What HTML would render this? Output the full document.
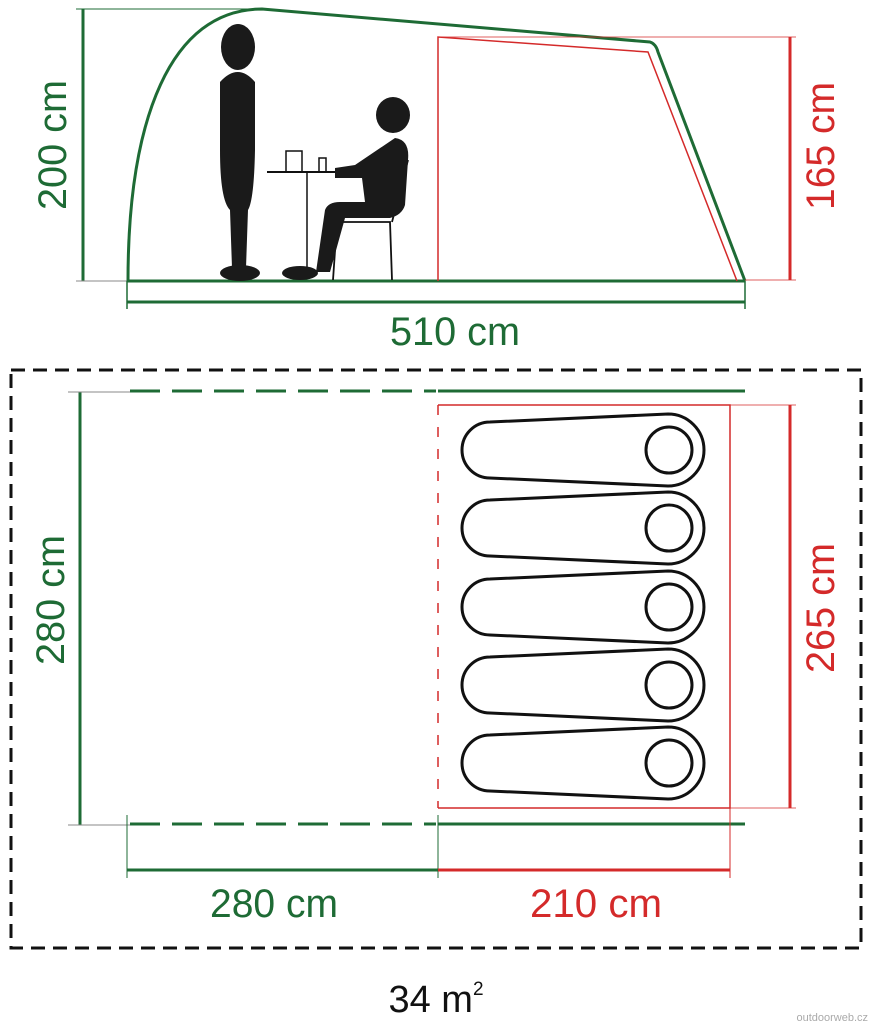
<!DOCTYPE html>
<html><head><meta charset="utf-8"><style>
html,body{margin:0;padding:0;background:#fff;}
svg{display:block;}
text{font-family:"Liberation Sans",sans-serif;}
</style></head><body>
<svg width="873" height="1024" viewBox="0 0 873 1024" xmlns="http://www.w3.org/2000/svg">
<g fill="none" stroke-linecap="butt">
<line x1="83" y1="9" x2="83" y2="281" stroke="#1e6b35" stroke-width="3"/>
<line x1="76" y1="9" x2="262" y2="9" stroke="#1e6b35" stroke-width="1"/>
<line x1="76" y1="281" x2="127" y2="281" stroke="#888" stroke-width="1"/>
<path d="M128,281 C128,120 170,9 262,9 L650,42 Q656,44 658,52 L745,281" stroke="#1e6b35" stroke-width="3"/>
<line x1="127" y1="281" x2="745" y2="281" stroke="#1e6b35" stroke-width="3"/>
<path d="M438,281 L438,37 L648,52 L737,281" stroke="#d42a2a" stroke-width="1.5"/>
<line x1="438" y1="37" x2="796" y2="37" stroke="#d42a2a" stroke-width="0.8"/>
<line x1="745" y1="280" x2="796" y2="280" stroke="#d42a2a" stroke-width="0.8"/>
<line x1="790" y1="37" x2="790" y2="280" stroke="#d42a2a" stroke-width="3"/>
<line x1="127" y1="302" x2="745" y2="302" stroke="#1e6b35" stroke-width="3"/>
<line x1="127" y1="281" x2="127" y2="309" stroke="#1e6b35" stroke-width="1.5"/>
<line x1="745" y1="281" x2="745" y2="309" stroke="#1e6b35" stroke-width="1.5"/>
<line x1="267" y1="172" x2="345" y2="172" stroke="#111" stroke-width="2"/>
<line x1="307" y1="172" x2="307" y2="278" stroke="#111" stroke-width="1.5"/>
<rect x="286" y="151" width="16" height="21" stroke="#111" stroke-width="1.5"/>
<rect x="319" y="158" width="7" height="14" stroke="#111" stroke-width="1.5"/>
<path d="M333,280 L337,222 L390,222 L392,280" stroke="#111" stroke-width="1.8"/>
<line x1="408" y1="160" x2="392" y2="222" stroke="#111" stroke-width="1.8"/>
</g>
<g fill="#1a1a1a">
<ellipse cx="238" cy="47" rx="17" ry="23"/>
<path d="M220,82 Q238,62 255,82 L255,150 Q254,200 248,210 L246,268 L232,268 L230,210 Q220,200 220,150 Z"/>
<ellipse cx="240" cy="273" rx="20" ry="8"/>
<ellipse cx="393" cy="115" rx="17" ry="18"/>
<path d="M395,138 Q410,140 408,160 L405,205 Q402,215 390,218 L345,218 L330,272 L316,272 L325,210 Q328,202 340,202 L365,202 L362,178 L335,178 L335,168 L355,165 Z"/>
<ellipse cx="300" cy="273" rx="18" ry="7"/>
</g>
<text x="390" y="345" font-size="40" fill="#1e6b35" textLength="130" lengthAdjust="spacingAndGlyphs">510 cm</text>
<text transform="translate(66,210) rotate(-90)" font-size="40" fill="#1e6b35" textLength="130" lengthAdjust="spacingAndGlyphs">200 cm</text>
<text transform="translate(834,210) rotate(-90)" font-size="40" fill="#d42a2a" textLength="128" lengthAdjust="spacingAndGlyphs">165 cm</text>

<g fill="none">
<rect x="11" y="370" width="850" height="578" stroke="#111" stroke-width="3" stroke-dasharray="14,8"/>
<line x1="80" y1="392" x2="80" y2="825" stroke="#1e6b35" stroke-width="3"/>
<line x1="68" y1="392" x2="130" y2="392" stroke="#888" stroke-width="1"/>
<line x1="68" y1="825" x2="130" y2="825" stroke="#888" stroke-width="1"/>
<line x1="130" y1="391" x2="436" y2="391" stroke="#1e6b35" stroke-width="3" stroke-dasharray="30,12"/>
<line x1="438" y1="391" x2="745" y2="391" stroke="#1e6b35" stroke-width="3"/>
<line x1="130" y1="824" x2="436" y2="824" stroke="#1e6b35" stroke-width="3" stroke-dasharray="30,12"/>
<line x1="438" y1="824" x2="745" y2="824" stroke="#1e6b35" stroke-width="3"/>
<path d="M438,405 L730,405 L730,808 L438,808" stroke="#d42a2a" stroke-width="1.5"/>
<line x1="438" y1="405" x2="438" y2="808" stroke="#d42a2a" stroke-width="1.5" stroke-dasharray="10,12"/>
<line x1="730" y1="405" x2="796" y2="405" stroke="#d42a2a" stroke-width="0.8"/>
<line x1="730" y1="808" x2="796" y2="808" stroke="#d42a2a" stroke-width="0.8"/>
<line x1="790" y1="405" x2="790" y2="808" stroke="#d42a2a" stroke-width="3"/>
<line x1="730" y1="808" x2="730" y2="878" stroke="#d42a2a" stroke-width="1"/>
<line x1="127" y1="815" x2="127" y2="878" stroke="#1e6b35" stroke-width="1"/>
<line x1="438" y1="815" x2="438" y2="878" stroke="#1e6b35" stroke-width="1"/>
<line x1="127" y1="870" x2="438" y2="870" stroke="#1e6b35" stroke-width="3"/>
<line x1="438" y1="870" x2="730" y2="870" stroke="#d42a2a" stroke-width="3"/>
<g stroke="#111" stroke-width="3">
<path d="M490,422 L668,414 A36,36 0 0 1 668,486 L490,478 A28,28 0 0 1 490,422 Z"/><circle cx="669" cy="450" r="23"/>
<path d="M490,500 L668,492 A36,36 0 0 1 668,564 L490,556 A28,28 0 0 1 490,500 Z"/><circle cx="669" cy="528" r="23"/>
<path d="M490,579 L668,571 A36,36 0 0 1 668,643 L490,635 A28,28 0 0 1 490,579 Z"/><circle cx="669" cy="607" r="23"/>
<path d="M490,657 L668,649 A36,36 0 0 1 668,721 L490,713 A28,28 0 0 1 490,657 Z"/><circle cx="669" cy="685" r="23"/>
<path d="M490,735 L668,727 A36,36 0 0 1 668,799 L490,791 A28,28 0 0 1 490,735 Z"/><circle cx="669" cy="763" r="23"/>
</g>
</g>
<text x="210" y="917" font-size="40" fill="#1e6b35" textLength="128" lengthAdjust="spacingAndGlyphs">280 cm</text>
<text x="530" y="917" font-size="40" fill="#d42a2a" textLength="132" lengthAdjust="spacingAndGlyphs">210 cm</text>
<text transform="translate(64,665) rotate(-90)" font-size="40" fill="#1e6b35" textLength="130" lengthAdjust="spacingAndGlyphs">280 cm</text>
<text transform="translate(834,673) rotate(-90)" font-size="40" fill="#d42a2a" textLength="130" lengthAdjust="spacingAndGlyphs">265 cm</text>
<text x="436" y="1012" font-size="38" fill="#111" text-anchor="middle">34 m<tspan font-size="19" dy="-17">2</tspan></text>
<text x="868" y="1021" font-size="11" fill="#aaa" text-anchor="end">outdoorweb.cz</text>
</svg>
</body></html>
